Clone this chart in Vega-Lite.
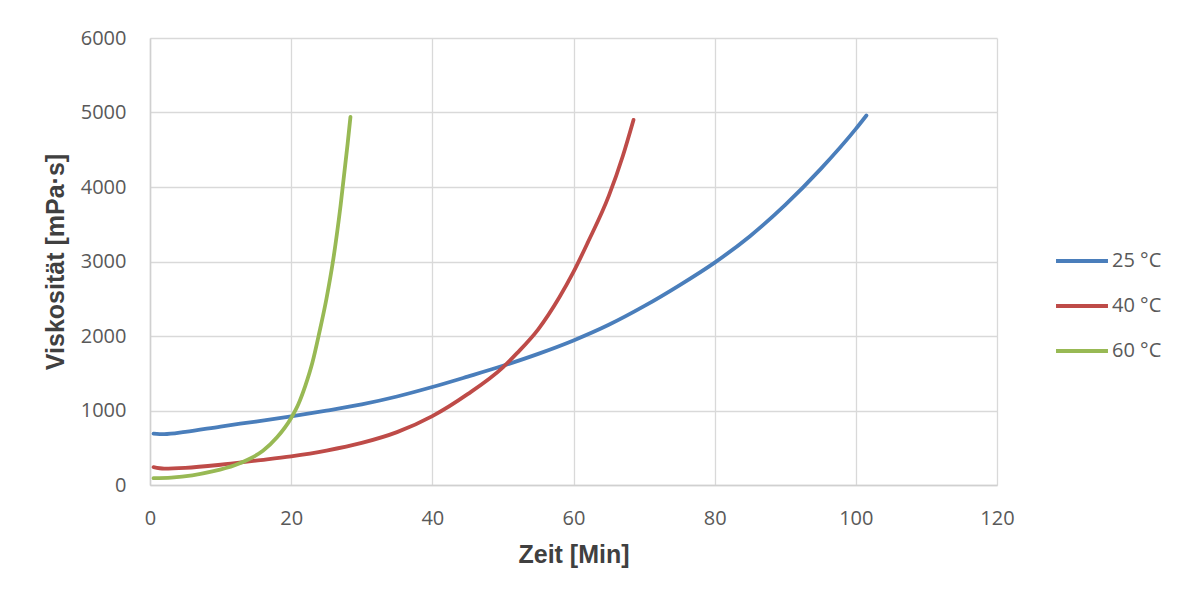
{
  "$schema": "https://vega.github.io/schema/vega-lite/v6.json",
  "autosize": {"type": "none"},
  "width": 847,
  "height": 447,
  "padding": {"left": 150, "top": 38, "right": 185, "bottom": 109},
  "background": "white",
  "config": {
    "view": {"stroke": null},
    "axis": {
      "labelFont": "Open Sans",
      "labelFontSize": 20,
      "labelColor": "#595959",
      "titleFont": "Liberation Sans",
      "titleFontSize": 25,
      "titleFontWeight": "bold",
      "titleColor": "#404040",
      "gridColor": "#d9d9d9",
      "gridWidth": 1.3,
      "domainColor": "#d0d0d0",
      "domainWidth": 1.5,
      "ticks": false
    }
  },
  "data": {
    "values": [
      {"t": 0.5, "v": 690, "s": "25 °C"},
      {"t": 2, "v": 682, "s": "25 °C"},
      {"t": 5, "v": 712, "s": "25 °C"},
      {"t": 10, "v": 785, "s": "25 °C"},
      {"t": 15, "v": 852, "s": "25 °C"},
      {"t": 20, "v": 922, "s": "25 °C"},
      {"t": 25, "v": 998, "s": "25 °C"},
      {"t": 30, "v": 1082, "s": "25 °C"},
      {"t": 35, "v": 1188, "s": "25 °C"},
      {"t": 40, "v": 1315, "s": "25 °C"},
      {"t": 45, "v": 1455, "s": "25 °C"},
      {"t": 50, "v": 1600, "s": "25 °C"},
      {"t": 55, "v": 1760, "s": "25 °C"},
      {"t": 60, "v": 1940, "s": "25 °C"},
      {"t": 65, "v": 2150, "s": "25 °C"},
      {"t": 70, "v": 2400, "s": "25 °C"},
      {"t": 75, "v": 2680, "s": "25 °C"},
      {"t": 80, "v": 2985, "s": "25 °C"},
      {"t": 85, "v": 3340, "s": "25 °C"},
      {"t": 90, "v": 3760, "s": "25 °C"},
      {"t": 95, "v": 4240, "s": "25 °C"},
      {"t": 100, "v": 4780, "s": "25 °C"},
      {"t": 101.5, "v": 4960, "s": "25 °C"},
      {"t": 0.5, "v": 240, "s": "40 °C"},
      {"t": 2, "v": 220, "s": "40 °C"},
      {"t": 5, "v": 230, "s": "40 °C"},
      {"t": 10, "v": 272, "s": "40 °C"},
      {"t": 15, "v": 328, "s": "40 °C"},
      {"t": 20, "v": 385, "s": "40 °C"},
      {"t": 25, "v": 462, "s": "40 °C"},
      {"t": 30, "v": 565, "s": "40 °C"},
      {"t": 35, "v": 710, "s": "40 °C"},
      {"t": 40, "v": 925, "s": "40 °C"},
      {"t": 45, "v": 1220, "s": "40 °C"},
      {"t": 50, "v": 1580, "s": "40 °C"},
      {"t": 52, "v": 1770, "s": "40 °C"},
      {"t": 55, "v": 2090, "s": "40 °C"},
      {"t": 58, "v": 2520, "s": "40 °C"},
      {"t": 60, "v": 2860, "s": "40 °C"},
      {"t": 62, "v": 3250, "s": "40 °C"},
      {"t": 65, "v": 3880, "s": "40 °C"},
      {"t": 67, "v": 4420, "s": "40 °C"},
      {"t": 68.5, "v": 4900, "s": "40 °C"},
      {"t": 0.5, "v": 92, "s": "60 °C"},
      {"t": 3, "v": 100, "s": "60 °C"},
      {"t": 6, "v": 130, "s": "60 °C"},
      {"t": 9, "v": 185, "s": "60 °C"},
      {"t": 12, "v": 265, "s": "60 °C"},
      {"t": 14, "v": 345, "s": "60 °C"},
      {"t": 16, "v": 460, "s": "60 °C"},
      {"t": 18, "v": 640, "s": "60 °C"},
      {"t": 20, "v": 900, "s": "60 °C"},
      {"t": 21, "v": 1080, "s": "60 °C"},
      {"t": 22, "v": 1330, "s": "60 °C"},
      {"t": 23, "v": 1640, "s": "60 °C"},
      {"t": 24, "v": 2050, "s": "60 °C"},
      {"t": 25, "v": 2500, "s": "60 °C"},
      {"t": 26, "v": 3050, "s": "60 °C"},
      {"t": 27, "v": 3750, "s": "60 °C"},
      {"t": 28, "v": 4580, "s": "60 °C"},
      {"t": 28.4, "v": 4940, "s": "60 °C"}
    ]
  },
  "mark": {"type": "line", "interpolate": "monotone", "strokeWidth": 3.8, "strokeCap": "round", "strokeJoin": "round"},
  "encoding": {
    "x": {
      "field": "t", "type": "quantitative", "title": "Zeit [Min]",
      "scale": {"domain": [0, 120], "nice": false},
      "axis": {"values": [0, 20, 40, 60, 80, 100, 120], "labelPadding": 23, "titlePadding": 14, "labelFlush": false, "format": "d"}
    },
    "y": {
      "field": "v", "type": "quantitative", "title": "Viskosität [mPa·s]",
      "scale": {"domain": [0, 6000], "nice": false},
      "axis": {"values": [0, 1000, 2000, 3000, 4000, 5000, 6000], "labelPadding": 24, "titleX": -82, "labelFlush": false, "format": "d"}
    },
    "color": {
      "field": "s", "type": "nominal",
      "scale": {"domain": ["25 °C", "40 °C", "60 °C"], "range": ["#4a7ebb", "#be4b48", "#98b954"]},
      "legend": {
        "title": null,
        "orient": "none",
        "legendX": 904,
        "legendY": 195,
        "padding": 0,
        "symbolType": "stroke",
        "symbolSize": 2700,
        "symbolStrokeWidth": 3.8,
        "labelFont": "Open Sans",
        "labelFontSize": 20,
        "labelColor": "#595959",
        "labelOffset": 2,
        "rowPadding": 7
      }
    }
  }
}
